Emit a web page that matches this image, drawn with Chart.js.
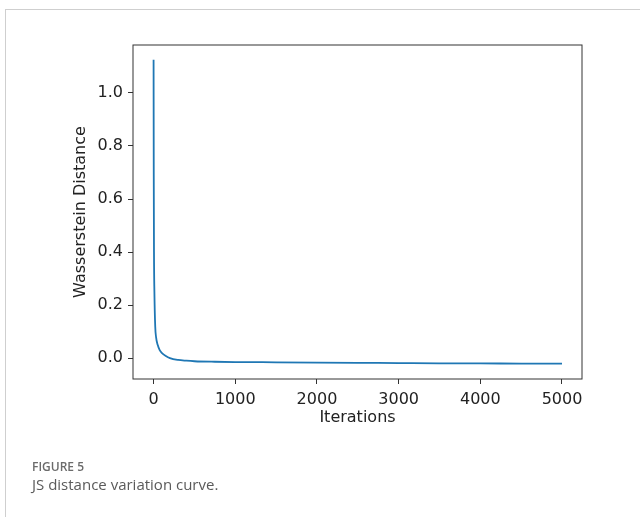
<!DOCTYPE html>
<html>
<head>
<meta charset="utf-8">
<script src="https://cdn.jsdelivr.net/npm/chart.js@4"></script>
<style>
  body { margin: 0; background: #fff; }
  #frame { position: absolute; left: 5px; top: 9px; width: 640px; height: 520px;
           border-top: 1px solid #cfcfcf; border-left: 1px solid #cfcfcf; }
  #wrap { position: absolute; left: 0; top: 0; width: 640px; height: 517px; }
  .cap1 { position: absolute; left: 32px; top: 458px; font: 600 12px "Open Sans", sans-serif; color: #6b6b6b; }
  .cap2 { position: absolute; left: 32px; top: 474px; font: 15px "Open Sans", sans-serif; color: #5a5a5a; }
</style>
</head>
<body>
<div id="frame"></div>
<div id="wrap"><canvas id="plot" width="640" height="517"></canvas></div>
<div class="cap1">FIGURE 5</div>
<div class="cap2">JS distance variation curve.</div>
<script>
// values
const iterations = [0, 2, 5, 10, 20, 30, 50, 75, 100, 150, 200, 300, 400, 500, 750, 1000, 1500, 2000, 2500, 3000, 3500, 4000, 4500, 5000];
const distance = [1.125, 0.7, 0.4, 0.25, 0.12, 0.08, 0.05, 0.03, 0.02, 0.008, 0.0, -0.007, -0.010, -0.012, -0.014, -0.015, -0.016, -0.017, -0.018, -0.019, -0.020, -0.020, -0.021, -0.021];
const xTicks = [0, 1000, 2000, 3000, 4000, 5000];
const yTicks = [0.0, 0.2, 0.4, 0.6, 0.8, 1.0];

const points = iterations.map((x, i) => ({ x: x, y: distance[i] }));

// box around the plot area, like matplotlib's spines
const frameBox = {
  id: "frameBox",
  afterDraw(chart) {
    const a = chart.chartArea;
    const ctx = chart.ctx;
    ctx.save();
    ctx.strokeStyle = "#333";
    ctx.lineWidth = 1;
    ctx.strokeRect(a.left, a.top, a.right - a.left, a.bottom - a.top);
    ctx.restore();
  }
};

const font = { family: "DejaVu Sans", size: 16 };

new Chart(document.getElementById("plot").getContext("2d"), {
  type: "line",
  data: {
    datasets: [{
      data: points,
      borderColor: "#1f77b4",
      borderWidth: 1.8,
      pointRadius: 0,
      cubicInterpolationMode: "monotone",
      fill: false
    }]
  },
  options: {
    responsive: false,
    animation: false,
    layout: { padding: { left: 71, right: 58, top: 45, bottom: 88 } },
    plugins: { legend: { display: false }, tooltip: { enabled: false } },
    scales: {
      x: {
        type: "linear",
        min: -252,
        max: 5245,
        afterBuildTicks: s => { s.ticks = xTicks.map(v => ({ value: v })); },
        afterFit: s => { s.height = 50; },
        grid: { drawOnChartArea: false, tickLength: 5, tickColor: "#333" },
        border: { display: false },
        ticks: { font: font, color: "#222", padding: 6, maxRotation: 0, callback: v => String(v) },
        title: { display: true, text: "Iterations", font: font, color: "#222", padding: { top: 0, bottom: 2 } }
      },
      y: {
        min: -0.079,
        max: 1.181,
        afterBuildTicks: s => { s.ticks = yTicks.map(v => ({ value: v })); },
        afterFit: s => { s.width = 62; },
        grid: { drawOnChartArea: false, tickLength: 5, tickColor: "#333" },
        border: { display: false },
        ticks: { font: font, color: "#222", padding: 5, callback: v => v.toFixed(1) },
        title: { display: true, text: "Wasserstein Distance", font: font, color: "#222", padding: 0 }
      }
    }
  },
  plugins: [frameBox]
});
</script>
</body>
</html>
